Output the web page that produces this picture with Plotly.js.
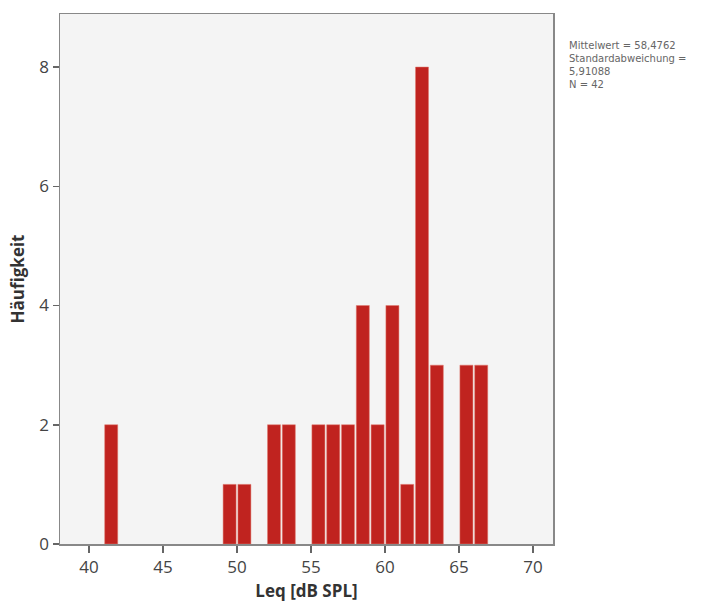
<!DOCTYPE html>
<html>
<head>
<meta charset="utf-8">
<script src="https://cdn.plot.ly/plotly-3.0.1.min.js"></script>
<style>html,body{margin:0;padding:0;background:#fff;}#chart{width:710px;height:615px;}</style>
</head>
<body>
<div id="chart"></div>
<script>
const binCenters = [41.5, 49.5, 50.5, 52.5, 53.5, 55.5, 56.5, 57.5, 58.5, 59.5, 60.5, 61.5, 62.5, 63.5, 65.5, 66.5];
const counts     = [2, 1, 1, 2, 2, 2, 2, 2, 4, 2, 4, 1, 8, 3, 3, 3];
const xTicks = [40, 45, 50, 55, 60, 65, 70];
const yTicks = [0, 2, 4, 6, 8];
const statsLines = ["Mittelwert = 58,4762", "Standardabweichung =", "5,91088", "N = 42"];

const trace = {
  type: 'bar',
  x: binCenters,
  y: counts,
  width: 0.88,
  marker: {color: '#c0231f', line: {color: '#e07a6e', width: 0.5}},
  hoverinfo: 'x+y'
};

const layout = {
  width: 710, height: 615,
  margin: {l: 60, r: 157, t: 14, b: 71},
  paper_bgcolor: '#ffffff',
  plot_bgcolor: '#f4f4f4',
  font: {family: 'Open Sans, sans-serif', color: '#333'},
  showlegend: false,
  xaxis: {
    range: [38.04, 71.35],
    tickvals: xTicks,
    ticks: 'outside', ticklen: 7, tickcolor: '#666', tickwidth: 1.5,
    showgrid: false, zeroline: false,
    showline: true, linecolor: '#888', linewidth: 1.5, mirror: true,
    tickfont: {size: 17, color: '#444'},
    title: {text: '<b>Leq [dB SPL]</b>', font: {size: 17, color: '#333'}, standoff: 8}
  },
  yaxis: {
    range: [0, 8.89],
    tickvals: yTicks,
    ticks: 'outside', ticklen: 6, tickcolor: '#666', tickwidth: 1.5,
    showgrid: false, zeroline: false,
    showline: true, linecolor: '#888', linewidth: 1.5, mirror: true,
    tickfont: {size: 17, color: '#444'},
    title: {text: '<b>Häufigkeit</b>', font: {size: 17, color: '#333'}, standoff: 10}
  },
  annotations: [{
    xref: 'paper', yref: 'paper',
    x: 1.028, y: 0.955, xanchor: 'left', yanchor: 'top',
    align: 'left', showarrow: false,
    text: statsLines.join('<br>'),
    font: {size: 10, color: '#666', family: 'DejaVu Sans, sans-serif'}
  }]
};

Plotly.newPlot('chart', [trace], layout, {displayModeBar: false, staticPlot: true});
</script>
</body>
</html>
